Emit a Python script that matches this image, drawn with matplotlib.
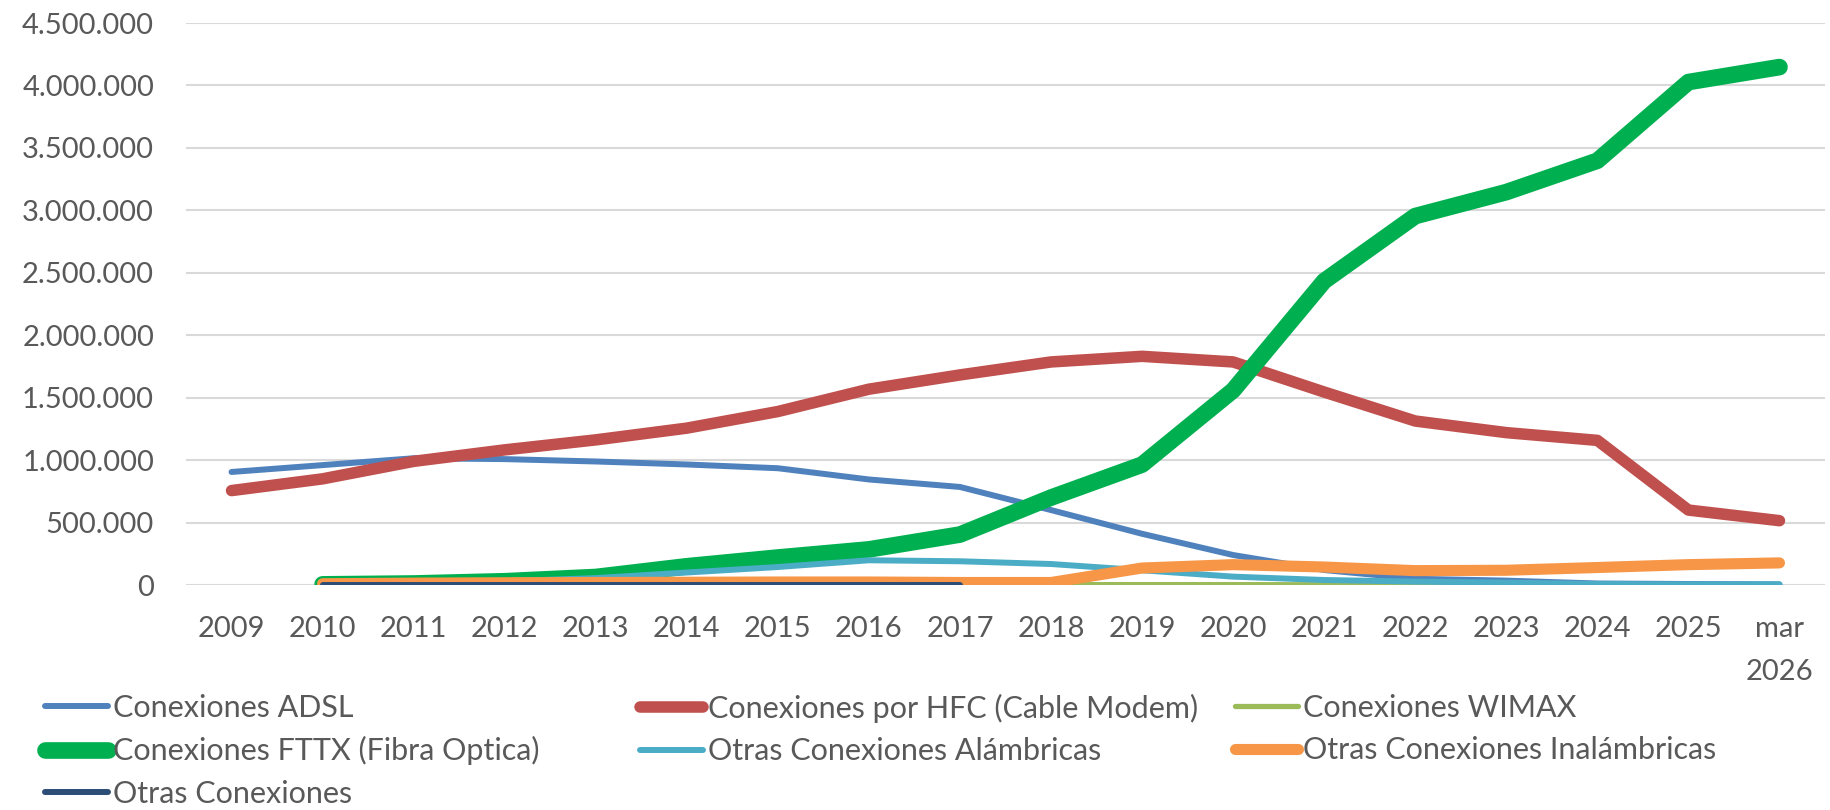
import numpy as np
import matplotlib
matplotlib.use("Agg")
import matplotlib.pyplot as plt
from matplotlib.ticker import FuncFormatter

nan = np.nan
categories = ["2009", "2010", "2011", "2012", "2013", "2014", "2015", "2016", "2017",
              "2018", "2019", "2020", "2021", "2022", "2023", "2024", "2025", "mar\n2026"]

adsl = [905000, 960000, 1015000, 1008000, 989000, 965000, 935000, 845000, 785000,
        600000, 410000, 240000, 120000, 50000, 35000, 12000, 8000, 5000]
hfc = [756000, 850000, 990000, 1082000, 1162000, 1256000, 1389000, 1568000, 1682000,
       1786000, 1831000, 1786000, 1545000, 1313000, 1220000, 1158000, 600000, 515000]
wimax = [nan, 6000, 6000, 5000, 5000, 5000, 4000, 4000, 4000,
         3000, 3000, 3000, 2000, 2000, 2000, 1000, 1000, 1000]
fttx = [nan, 5000, 12000, 30000, 64000, 150000, 220000, 285000, 404000,
        700000, 964000, 1559000, 2434000, 2954000, 3146000, 3397000, 4027000, 4147000]
alambricas = [nan, 5000, 15000, 30000, 55000, 100000, 144000, 198000, 190000,
              168000, 118000, 67000, 40000, 27000, 19000, 8000, 5000, 5000]
inalambricas = [nan, 10000, 15000, 18000, 20000, 22000, 24000, 24000, 20000,
                20000, 136000, 163000, 144000, 115000, 118000, 140000, 163000, 177000]
otras = [nan, 1000, 1000, 1000, 1000, 1000, 1000, 1000, 1000,
         nan, nan, nan, nan, nan, nan, nan, nan, nan]

labels = ["Conexiones ADSL", "Conexiones por HFC (Cable Modem)", "Conexiones WIMAX",
          "Conexiones FTTX (Fibra Optica)", "Otras Conexiones Alámbricas",
          "Otras Conexiones Inalámbricas", "Otras Conexiones"]
yticks = [0, 500000, 1000000, 1500000, 2000000, 2500000, 3000000, 3500000, 4000000, 4500000]

series = [adsl, hfc, wimax, fttx, alambricas, inalambricas, otras]
colors = ["#4F81BD", "#C0504D", "#9BBB59", "#00B050", "#4BACC6", "#F79646", "#2C4D75"]
widths = [4.3, 8.3, 3.8, 12.0, 4.3, 8.0, 4.3]

plt.rcParams['font.family'] = ['Lato', 'DejaVu Sans']
txt = "#595959"

fig = plt.figure(figsize=(18.3, 8.1), dpi=100)
ax = fig.add_axes([186 / 1830, 1 - 585 / 810, (1825 - 186) / 1830, (585 - 23) / 810])

x = np.arange(len(categories))
handles = []
for s, c, w, lab in zip(series, colors, widths, labels):
    h, = ax.plot(x, np.array(s, dtype=float), color=c, lw=w, label=lab,
                 solid_capstyle='round', solid_joinstyle='round')
    handles.append(h)

ax.set_xlim(-0.5, len(categories) - 0.5)
ax.set_ylim(0, 4500000)
ax.set_yticks(yticks)
ax.yaxis.set_major_formatter(FuncFormatter(lambda v, p: f"{int(v):,}".replace(",", ".")))
ax.set_xticks(x)
ax.set_xticklabels(categories)
ax.tick_params(axis='both', length=0, labelsize=21, colors=txt)
ax.tick_params(axis='y', pad=23)
ax.tick_params(axis='x', pad=22)
for t in ax.get_xticklabels():
    t.set_linespacing(1.85)
ax.grid(axis='y', color="#D9D9D9", lw=1.5)
ax.set_axisbelow(True)
for sp in ax.spines.values():
    sp.set_visible(False)

cols = [[0, 3, 6], [1, 4], [2, 5]]
xpos = [45, 640, 1235]
for idx, xp in zip(cols, xpos):
    leg = fig.legend([handles[i] for i in idx], [labels[i] for i in idx],
                     loc='upper left', bbox_to_anchor=(xp / 1830, 1 - 694 / 810),
                     frameon=False, fontsize=22, handlelength=2.05, handletextpad=0.16,
                     labelspacing=0.47, borderpad=0, borderaxespad=0, ncol=1)
    for t in leg.get_texts():
        t.set_color(txt)

fig.savefig("out.png", dpi=100)
